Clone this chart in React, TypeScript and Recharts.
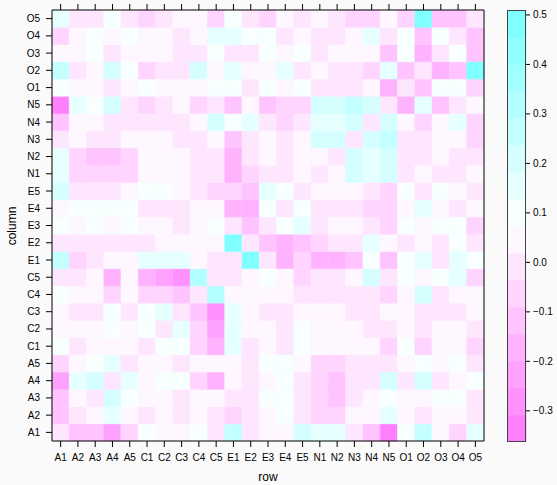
import React from 'react';
import { Bar, BarChart, Cell, XAxis, YAxis } from 'recharts';

// item names, used on both axes
const names = [
  'A1', 'A2', 'A3', 'A4', 'A5',
  'C1', 'C2', 'C3', 'C4', 'C5',
  'E1', 'E2', 'E3', 'E4', 'E5',
  'N1', 'N2', 'N3', 'N4', 'N5',
  'O1', 'O2', 'O3', 'O4', 'O5'
];

// residual correlations, one array per "column" level (y), read across "row" (x)
const colA1 = [0, -0.12, -0.12, -0.23, -0.06, 0.10, 0.05, 0.05, 0.10, -0.01, 0.26, -0.01, 0.05, 0.05, 0.21, 0.15, 0.15, -0.01, -0.12, -0.36, 0.10, 0.26, 0.05, -0.06, 0.15];
const colA2 = [-0.12, 0, 0.05, 0.15, 0.05, -0.01, 0.05, -0.01, 0.05, -0.01, -0.06, -0.01, 0.05, 0.10, -0.01, -0.06, -0.06, 0.05, 0.05, 0.15, 0.05, -0.01, 0.05, 0.05, -0.01];
const colA3 = [-0.12, 0.05, 0, 0.21, 0.10, 0.05, 0.05, -0.01, 0.05, 0.05, -0.01, -0.01, 0.10, 0.10, -0.01, -0.06, -0.12, -0.01, 0.05, 0.10, 0.05, 0.05, 0.10, 0.10, -0.01];
const colA4 = [-0.23, 0.15, 0.21, 0, 0.15, 0.05, 0.10, 0.10, -0.06, -0.17, 0.05, -0.01, 0.05, 0.10, -0.01, -0.06, -0.12, -0.01, -0.01, 0.21, -0.01, 0.21, -0.01, 0.05, 0.10];
const colA5 = [-0.06, 0.05, 0.10, 0.15, 0, 0.05, 0.05, -0.01, 0.05, 0.05, 0.05, -0.01, 0.10, 0.10, 0.05, -0.06, -0.06, -0.01, -0.01, -0.01, 0.05, 0.10, 0.05, 0.10, -0.01];
const colC1 = [0.10, -0.01, 0.05, 0.05, 0.05, 0, 0.10, 0.10, -0.06, -0.17, 0.15, -0.01, 0.05, -0.01, 0.10, 0.05, 0.05, 0.05, 0.05, -0.06, 0.10, -0.06, 0.05, 0.05, -0.06];
const colC2 = [0.05, 0.05, 0.05, 0.10, 0.05, 0.10, 0, 0.15, -0.06, -0.23, 0.15, 0.05, 0.05, -0.01, 0.10, 0.05, 0.05, 0.05, -0.01, -0.01, 0.05, -0.01, 0.05, 0.05, -0.01];
const colC3 = [0.05, -0.01, -0.01, 0.10, -0.01, 0.10, 0.15, 0, -0.12, -0.28, 0.15, 0.05, -0.01, -0.01, 0.05, 0.05, 0.05, -0.01, -0.01, 0.05, 0.05, -0.01, -0.01, -0.01, 0.05];
const colC4 = [0.10, 0.05, 0.05, -0.06, 0.05, -0.06, -0.06, -0.12, 0, 0.32, 0.05, 0.05, 0.05, 0.05, -0.01, -0.01, -0.01, -0.01, -0.01, -0.06, 0.05, 0.21, -0.01, 0.05, 0.05];
const colC5 = [-0.01, -0.01, 0.05, -0.17, 0.05, -0.17, -0.23, -0.28, 0.32, 0, -0.01, 0.05, 0.10, 0.05, -0.06, -0.01, -0.01, 0.05, 0.21, -0.01, 0.10, 0.05, 0.10, 0.15, -0.06];
const colE1 = [0.26, -0.06, -0.01, 0.05, 0.05, 0.15, 0.15, 0.15, 0.05, -0.01, 0, 0.51, -0.01, -0.17, -0.06, -0.17, -0.17, -0.12, 0.10, -0.12, 0.10, 0.15, -0.01, 0.15, 0.10];
const colE2 = [-0.01, -0.01, -0.01, -0.01, -0.01, -0.01, 0.05, 0.05, 0.05, 0.05, 0.51, 0, -0.12, -0.17, -0.12, -0.06, -0.01, -0.01, 0.15, 0.05, -0.01, 0.05, -0.01, 0.10, -0.01];
const colE3 = [0.10, 0.05, 0.10, 0.05, 0.10, 0.05, 0.05, -0.01, 0.05, 0.10, -0.01, -0.12, 0, 0.10, 0.15, -0.01, 0.05, 0.05, -0.01, -0.06, 0.10, 0.05, 0.10, 0.10, -0.06];
const colE4 = [0.05, 0.10, 0.10, 0.10, 0.10, -0.01, -0.01, -0.01, 0.05, 0.05, -0.17, -0.17, 0.10, 0, 0.10, -0.01, -0.01, -0.01, -0.06, -0.06, 0.05, 0.15, 0.05, -0.01, 0.05];
const colE5 = [0.21, -0.01, -0.01, -0.01, 0.05, 0.10, 0.10, 0.05, -0.01, -0.06, -0.06, -0.12, 0.15, 0.10, 0, 0.05, 0.05, 0.05, -0.01, -0.06, 0.10, -0.01, 0.10, 0.05, -0.01];
const colN1 = [0.15, -0.06, -0.06, -0.06, -0.06, 0.05, 0.05, 0.05, -0.01, -0.01, -0.17, -0.06, -0.01, -0.01, 0.05, 0, 0.05, 0.21, 0.15, 0.21, -0.01, 0.05, -0.01, -0.01, 0.05];
const colN2 = [0.15, -0.06, -0.12, -0.12, -0.06, 0.05, 0.05, 0.05, -0.01, -0.01, -0.17, -0.01, 0.05, -0.01, 0.05, 0.05, 0, 0.21, 0.15, 0.21, -0.01, -0.01, 0.05, -0.01, -0.01];
const colN3 = [-0.01, 0.05, -0.01, -0.01, 0.05, 0.05, 0.05, -0.01, -0.01, 0.05, -0.12, -0.01, 0.05, -0.01, 0.05, 0.21, 0.21, 0, 0.21, 0.26, -0.01, -0.01, 0.05, 0.05, -0.06];
const colN4 = [-0.12, 0.05, 0.05, -0.01, -0.01, -0.01, -0.01, -0.01, 0.05, 0.21, 0.10, 0.15, -0.01, -0.06, -0.01, 0.15, 0.15, 0.21, 0, 0.21, 0.05, -0.06, 0.05, 0.15, -0.06];
const colN5 = [-0.36, 0.15, 0.10, 0.21, -0.01, -0.06, -0.01, 0.05, -0.06, -0.01, -0.12, 0.05, -0.12, -0.06, -0.06, 0.21, 0.21, 0.26, 0.21, 0, -0.17, 0.15, -0.12, -0.01, 0.05];
const colO1 = [0.10, 0.05, 0.05, -0.01, 0.05, 0.10, 0.05, 0.05, 0.05, 0.10, 0.10, -0.01, 0.10, 0.05, 0.10, -0.01, -0.01, -0.01, 0.05, -0.17, 0, -0.12, 0.10, 0.10, -0.06];
const colO2 = [0.26, -0.01, 0.05, 0.21, 0.10, -0.06, -0.01, -0.01, 0.21, 0.05, 0.15, 0.05, 0.05, 0.15, -0.01, 0.05, -0.01, -0.01, -0.06, 0.15, -0.12, 0, -0.17, -0.12, 0.47];
const colO3 = [0.05, 0.05, 0.10, -0.01, 0.05, 0.05, 0.05, -0.01, -0.01, 0.10, -0.01, -0.01, 0.10, 0.05, 0.10, -0.01, 0.05, 0.05, 0.05, -0.12, 0.10, -0.17, 0, 0.10, -0.12];
const colO4 = [-0.06, 0.05, 0.10, 0.05, 0.10, 0.05, 0.05, -0.01, 0.05, 0.15, 0.15, 0.10, 0.10, -0.01, 0.05, -0.01, -0.01, 0.05, 0.15, -0.01, 0.10, -0.12, 0.10, 0, -0.12];
const colO5 = [0.15, -0.01, -0.01, 0.10, -0.01, -0.06, -0.01, 0.05, 0.05, -0.06, 0.10, -0.01, -0.06, 0.05, -0.01, 0.05, -0.01, -0.06, -0.06, 0.05, -0.06, 0.47, -0.12, -0.12, 0];

// bottom to top
const levels = [
  colA1, colA2, colA3, colA4, colA5,
  colC1, colC2, colC3, colC4, colC5,
  colE1, colE2, colE3, colE4, colE5,
  colN1, colN2, colN3, colN4, colN5,
  colO1, colO2, colO3, colO4, colO5
];

// colour key
const keyMin = -0.363;
const keyMax = 0.51;
const keyBins = 16;
const keyTicks = [-0.3, -0.2, -0.1, 0.0, 0.1, 0.2, 0.3, 0.4, 0.5];

const FONT = '"Liberation Sans", Arial, sans-serif';

const binColor = (k: number) => {
  const t = k / (keyBins - 1);
  if (t <= 0.5) {
    const g = Math.round(128 + 254 * t);
    return `rgb(255,${g},255)`;
  }
  const r = Math.round(382 - 254 * t);
  return `rgb(${r},255,255)`;
};

const valueColor = (v: number) => {
  const w = (keyMax - keyMin) / keyBins;
  let k = Math.floor((v - keyMin) / w);
  if (k < 0) k = 0;
  if (k > keyBins - 1) k = keyBins - 1;
  return binColor(k);
};

const gridData = names.map((name) => {
  const row: Record<string, number | string> = { name };
  names.forEach((_, j) => {
    row['y' + j] = 1;
  });
  return row;
});

// key: a hidden base segment down to keyMin, then the bins stacked upward
const keyStep = (keyMax - keyMin) / keyBins;
const keyRow: Record<string, number | string> = { name: 'key', base: keyMin };
for (let k = 0; k < keyBins; k++) keyRow['k' + k] = keyStep;
const keyData = [keyRow];
const keyIds = Array.from({ length: keyBins }, (_, k) => k);

const yTicks = names.map((_, j) => j + 0.5);
const tickStyle = { fill: '#000', fontSize: 10, fontFamily: FONT };
const fmtKey = (v: number) => (v < 0 ? '\u2212' + Math.abs(v).toFixed(1) : v.toFixed(1));
const blank = () => '';

export default function App() {
  return (
    <div
      style={{
        position: 'absolute',
        left: 0,
        top: 0,
        width: 557,
        height: 485,
        background: '#fafafa',
        fontFamily: FONT
      }}
    >
      <div style={{ position: 'absolute', left: 0, top: 0 }}>
        <BarChart
          width={557}
          height={485}
          data={gridData}
          margin={{ top: 2, right: 65, bottom: 14, left: 12 }}
          barCategoryGap={0}
          barGap={0}
        >
          <XAxis
            dataKey="name"
            interval={0}
            tickSize={6}
            tickMargin={7}
            height={30}
            stroke="#000"
            tick={tickStyle}
          />
          <XAxis
            xAxisId="top"
            dataKey="name"
            orientation="top"
            interval={0}
            tickSize={6}
            tickMargin={0}
            height={8}
            stroke="#000"
            tick={{ fontSize: 1 }}
            tickFormatter={blank}
          />
          <YAxis
            type="number"
            domain={[0, 25]}
            ticks={yTicks}
            interval={0}
            tickFormatter={(v: number) => names[Math.floor(v)]}
            width={40}
            tickSize={6}
            tickMargin={6}
            stroke="#000"
            tick={tickStyle}
          />
          <YAxis
            yAxisId="right"
            orientation="right"
            type="number"
            domain={[0, 25]}
            ticks={yTicks}
            interval={0}
            width={8}
            tickSize={6}
            tickMargin={0}
            stroke="#000"
            tick={{ fontSize: 1 }}
            tickFormatter={blank}
          />
          {levels.map((vals, j) => (
            <Bar key={names[j]} dataKey={'y' + j} stackId="grid" isAnimationActive={false}>
              {vals.map((v, i) => (
                <Cell key={i} fill={valueColor(v)} stroke={valueColor(v)} strokeWidth={0.6} />
              ))}
            </Bar>
          ))}
        </BarChart>
      </div>

      <div style={{ position: 'absolute', left: 507, top: 0 }}>
        <BarChart
          width={50}
          height={485}
          data={keyData}
          stackOffset="none"
          margin={{ top: 10, right: 0, bottom: 43, left: 0 }}
          barCategoryGap={0}
          barGap={0}
        >
          <XAxis dataKey="name" hide />
          <YAxis
            orientation="right"
            type="number"
            domain={[keyMin, keyMax]}
            allowDataOverflow
            ticks={keyTicks}
            interval={0}
            width={31}
            tickSize={4}
            tickMargin={3}
            axisLine={false}
            stroke="#000"
            tick={tickStyle}
            tickFormatter={fmtKey}
          />
          <Bar dataKey="base" stackId="key" fill="none" isAnimationActive={false} />
          {keyIds.map((k) => (
            <Bar
              key={k}
              dataKey={'k' + k}
              stackId="key"
              fill={binColor(k)}
              stroke={binColor(k)}
              strokeWidth={0.6}
              isAnimationActive={false}
            />
          ))}
        </BarChart>
        <div
          style={{
            position: 'absolute',
            left: 0,
            top: 10,
            width: 19,
            height: 432,
            boxSizing: 'border-box',
            border: '1px solid #444'
          }}
        />
      </div>

      <div
        style={{
          position: 'absolute',
          left: 218,
          top: 470,
          width: 100,
          textAlign: 'center',
          fontSize: 12,
          lineHeight: '14px',
          color: '#000'
        }}
      >
        row
      </div>
      <div
        style={{
          position: 'absolute',
          left: -28,
          top: 219,
          width: 80,
          textAlign: 'center',
          fontSize: 12,
          lineHeight: '14px',
          color: '#000',
          transform: 'rotate(-90deg)'
        }}
      >
        column
      </div>
    </div>
  );
}
